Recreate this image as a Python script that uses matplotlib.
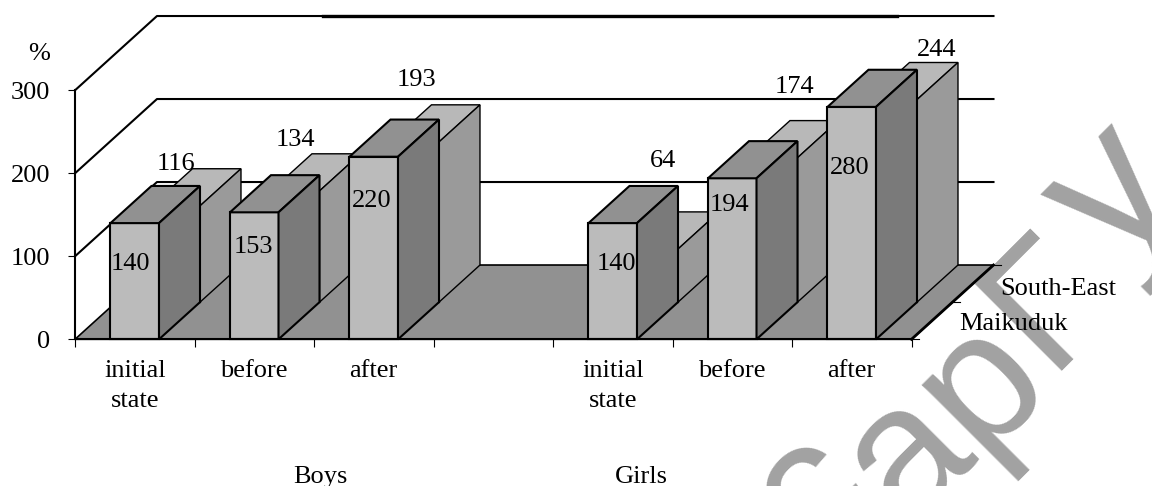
import numpy as np
import matplotlib.pyplot as plt
from matplotlib.patches import Polygon

plt.rcParams['font.family'] = ['Liberation Serif', 'DejaVu Serif']

categorias = ["initial\nstate", "before", "after", "", "initial\nstate", "before", "after"]
maikuduk = [140, 153, 220, None, 140, 194, 280]
south_east = [116, 134, 193, None, 64, 174, 244]
y_ticks = [0, 100, 200, 300]

# deslocamento dos rotulos em pixels (x, y)
off_frente = [(-4, -41), (-1, -35), (-2, -44), None, (4, -41), (-3, -27), (-2, -61)]
off_fundo = [(0, 5), (0, 14), (2, 25), None, (9, 51), (21, 34), (44, 12)]

# marca d'agua: letra, tamanho e origem em pixels
marca_letras = ["c", "a", "p", "\u0393", "y"]
marca_tam = [133, 133, 133, 128, 147]
marca_x = [813, 905, 978, 1047, 1117]
marca_y = [561, 527, 454, 371, 271]

# profundidade da projecao, em unidades de categoria e de valor
prof_x = 0.686
prof_y = 89.5
larg = 0.406
FS = 19


def proj(x, v, d):
    return (x + d * prof_x, v + d * prof_y)


def barra(ax, x, v, d0, d1, cores, lw):
    x0, x1 = x - larg / 2, x + larg / 2
    faces = [
        ([proj(x0, 0, d0), proj(x1, 0, d0), proj(x1, v, d0), proj(x0, v, d0)], cores[0]),
        ([proj(x0, v, d0), proj(x1, v, d0), proj(x1, v, d1), proj(x0, v, d1)], cores[1]),
        ([proj(x1, 0, d0), proj(x1, 0, d1), proj(x1, v, d1), proj(x1, v, d0)], cores[2]),
    ]
    for pts, c in faces:
        ax.add_patch(Polygon(pts, closed=True, fc=c, ec='black', lw=lw, clip_on=False, zorder=3, joinstyle='miter'))


def rotulo(ax, txt, xy, off):
    ax.annotate(txt, xy=xy, xytext=(off[0] * 0.72, off[1] * 0.72), textcoords='offset points',
                ha='center', va='center', fontsize=FS, zorder=6, annotation_clip=False)


fig = plt.figure(figsize=(11.52, 4.86), dpi=100)
ax = fig.add_axes([75 / 1152, (486 - 339.3) / 486, 836.5 / 1152, 249 / 486])
n = len(categorias)
ax.set_xlim(0, n)
ax.set_ylim(0, 300)

# paredes e grade
for v in y_ticks[1:]:
    p = proj(0, v, 1)
    q = proj(n, v, 1)
    ax.plot([0, p[0], q[0]], [v, p[1], q[1]], color='black', lw=1.5, clip_on=False, zorder=1)
# trecho mais grosso da linha de cima
ax.plot([2.075, 6.88], [300 + prof_y, 300 + prof_y], color='black', lw=2.4, clip_on=False, zorder=1)

# chao
chao = [proj(0, 0, 0), proj(n, 0, 0), proj(n, 0, 1), proj(0, 0, 1)]
ax.add_patch(Polygon(chao, closed=True, fc='#919191', ec='black', lw=1.2, clip_on=False, zorder=2))
ax.plot([n, n + prof_x], [0, prof_y], color='black', lw=2, clip_on=False, zorder=2)

# tracinhos da profundidade
for d in [0, 0.5, 1]:
    p = proj(n, 0, d)
    ax.plot([p[0], p[0] + 0.065], [p[1], p[1]], color='black', lw=0.8, clip_on=False, zorder=2)

# serie de tras primeiro
for i, v in enumerate(south_east):
    if v is not None:
        barra(ax, i + 0.5, v, 0.5, 1, ['#b8b8b8', '#b8b8b8', '#9a9a9a'], 1.0)
for i, v in enumerate(maikuduk):
    if v is not None:
        barra(ax, i + 0.5, v, 0, 0.5, ['#bbbbbb', '#919191', '#7a7a7a'], 1.5)

for i, v in enumerate(south_east):
    if v is not None:
        rotulo(ax, str(v), (i + 0.5 + prof_x / 2, v + prof_y), off_fundo[i])
for i, v in enumerate(maikuduk):
    if v is not None:
        rotulo(ax, str(v), (i + 0.5, v), off_frente[i])

# eixos
for s in ['top', 'right']:
    ax.spines[s].set_visible(False)
ax.spines['left'].set_linewidth(1.5)
ax.spines['bottom'].set_linewidth(1.5)
ax.spines['left'].set_zorder(4)
ax.spines['bottom'].set_zorder(4)
ax.patch.set_visible(False)
ax.set_yticks(y_ticks)
ax.set_yticklabels([str(v) for v in y_ticks], fontsize=FS)
ax.tick_params(axis='y', length=5, width=0.8, pad=13)
ax.set_xticks(np.arange(n + 1))
ax.set_xticklabels([])
ax.tick_params(axis='x', which='major', length=6, width=0.8)
ax.set_xticks(np.arange(n) + 0.5, minor=True)
ax.set_xticklabels(categorias, minor=True, fontsize=FS, linespacing=1.45)
ax.tick_params(axis='x', which='minor', length=0, pad=15)

ax.text(-0.21, 344, "%", ha='right', va='center', fontsize=FS)
ax.text(2.05, -166, "Boys", ha='center', va='center', fontsize=FS)
ax.text(4.74, -166, "Girls", ha='center', va='center', fontsize=FS)
ax.text(7.74, 61, "South-East", ha='left', va='center', fontsize=FS, zorder=6)
ax.text(7.40, 18, "Maikuduk", ha='left', va='center', fontsize=FS, zorder=6)

# marca d'agua
for letra, tam, px, py in zip(marca_letras, marca_tam, marca_x, marca_y):
    fig.text(px / 1152, 1 - py / 486, letra, family='Liberation Sans', fontsize=tam, rotation=45,
             rotation_mode='anchor', ha='left', va='baseline', color='black', alpha=0.37, zorder=10)

fig.savefig("out.png", dpi=100)
